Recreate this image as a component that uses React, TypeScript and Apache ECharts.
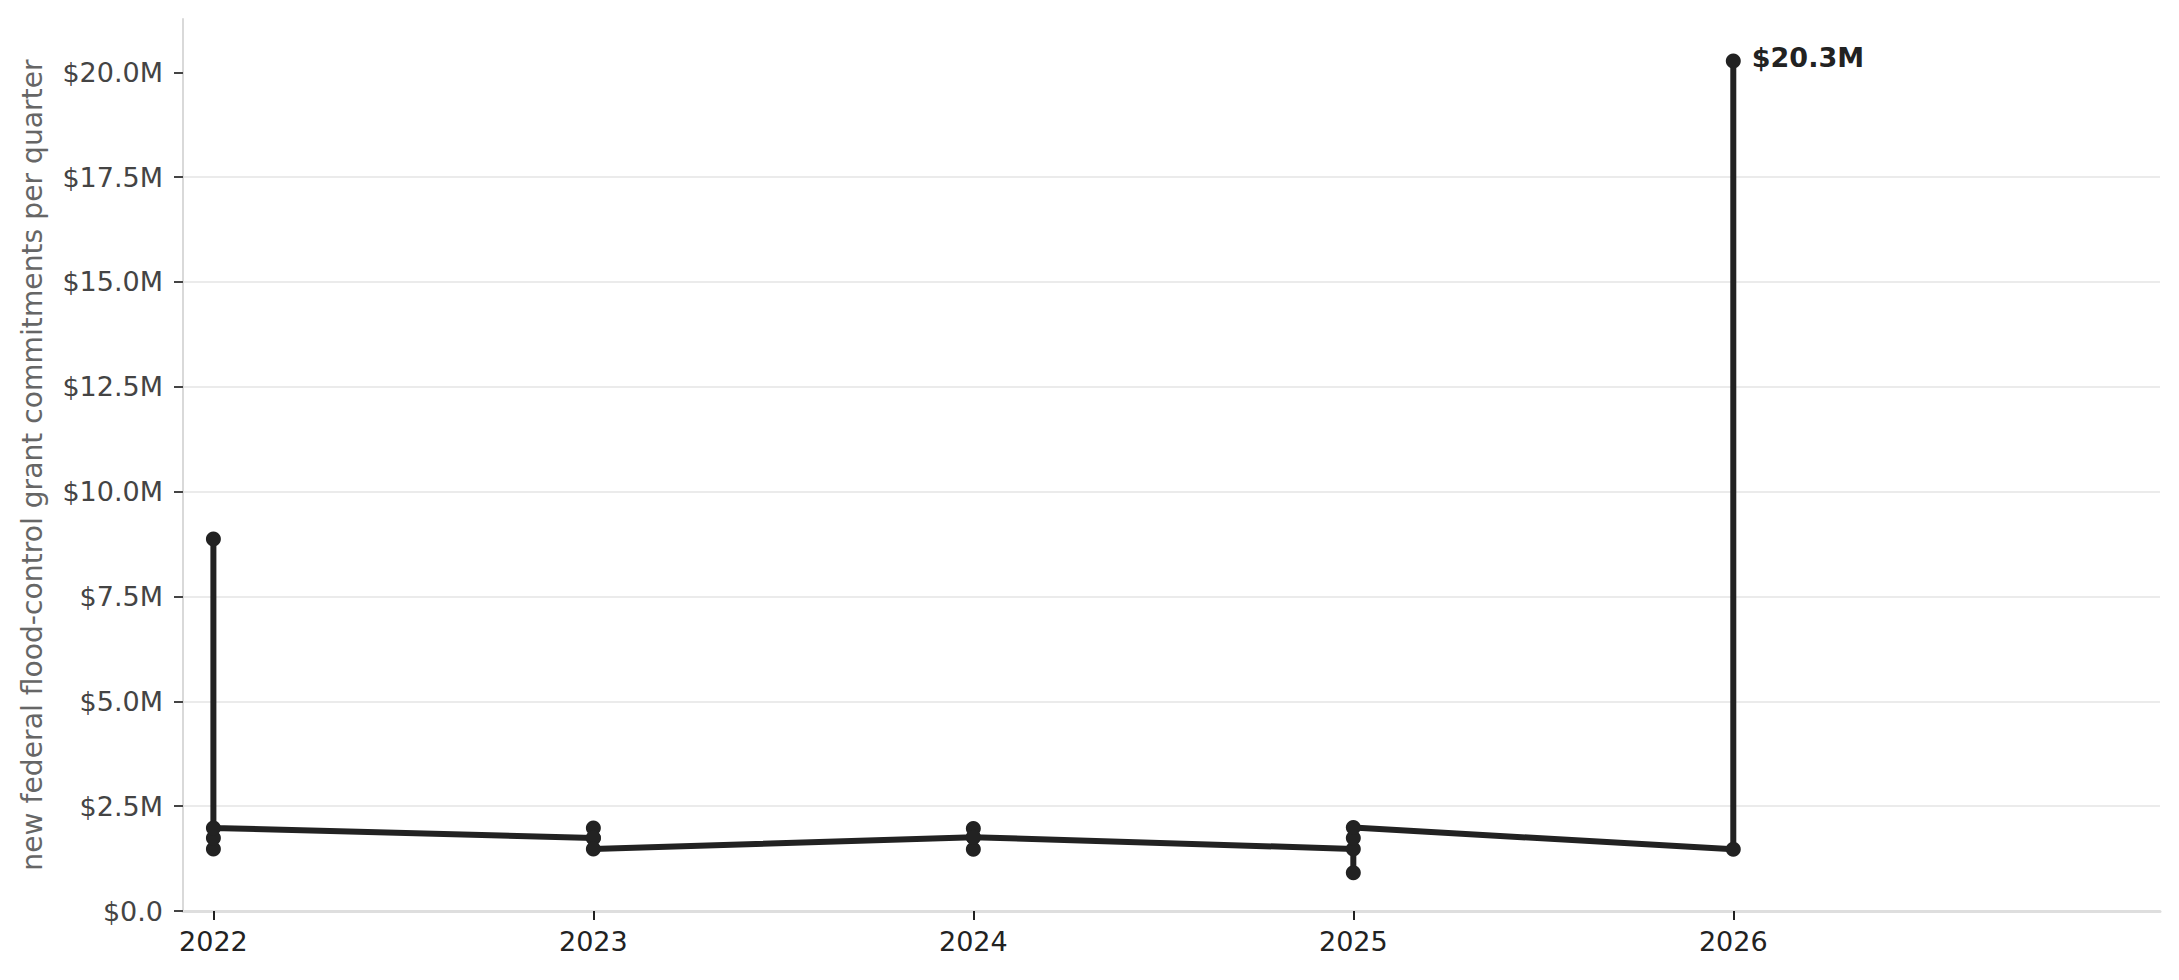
import React, { useRef, useEffect } from "react";
import * as echarts from "echarts";

// quarterly commitments, in $M; every quarter is plotted at its year
const pointYears = [
  2022, 2022, 2022, 2022,
  2023, 2023, 2023, 2023,
  2024, 2024, 2024, 2024,
  2025, 2025, 2025, 2025,
  2026, 2026,
];
const pointValues = [
  1.48, 8.87, 1.74, 1.98,
  1.74, 1.98, 1.74, 1.48,
  1.76, 1.97, 1.47, 1.76,
  1.48, 0.91, 1.74, 1.99,
  1.47, 20.27,
];
const yearTicks = [2022, 2023, 2024, 2025, 2026];
const valueTicks = [0, 2.5, 5, 7.5, 10, 12.5, 15, 17.5, 20];

const FONT = "DejaVu Sans";
const INK = "#222222";

const money = (v: number) => (v === 0 ? "$0.0" : `$${v.toFixed(1)}M`);

export default function App() {
  const chartRef = useRef<HTMLDivElement>(null);

  useEffect(() => {
    if (!chartRef.current) return;
    const chart = echarts.init(chartRef.current, undefined, { renderer: "svg" });

    const last = pointValues.length - 1;
    const data = pointValues.map((v, i) =>
      i === last
        ? {
            value: [pointYears[i], v],
            label: {
              show: true,
              position: "right",
              distance: 11,
              offset: [0, -3],
              formatter: (p: any) => money(p.value[1]),
              color: INK,
              fontFamily: FONT,
              fontWeight: "bold",
              fontSize: 27,
            },
          }
        : { value: [pointYears[i], v] }
    );

    const option: echarts.EChartsOption = {
      animation: false,
      backgroundColor: "#ffffff",
      grid: { left: 183, right: 19, top: 19, bottom: 69, containLabel: false },
      xAxis: {
        type: "value",
        min: 2021.92,
        max: 2027.123,
        axisLine: { show: true, onZero: false, lineStyle: { color: "#dedede", width: 3 } },
        axisTick: { show: true, customValues: yearTicks, length: 9, lineStyle: { color: INK, width: 2 } },
        axisLabel: {
          customValues: yearTicks,
          formatter: (v: number) => String(v),
          color: INK,
          fontFamily: FONT,
          fontSize: 27,
          margin: 17,
        },
        splitLine: { show: false },
      },
      yAxis: {
        type: "value",
        min: 0,
        max: 21.27,
        interval: 2.5,
        name: "new federal flood-control grant commitments per quarter",
        nameLocation: "middle",
        nameGap: 137,
        nameTextStyle: { color: "#666666", fontFamily: FONT, fontSize: 28.2 },
        axisLine: { show: true, lineStyle: { color: "#d9d9d9", width: 2 } },
        axisTick: { show: true, customValues: valueTicks, length: 9, lineStyle: { color: "#444444", width: 2 } },
        axisLabel: {
          customValues: valueTicks,
          formatter: money,
          color: "#444444",
          fontFamily: FONT,
          fontSize: 27,
          margin: 20,
        },
        splitLine: { show: true, showMaxLine: false, lineStyle: { color: "#ebebeb", width: 2 } },
      } as any,
      series: [
        {
          type: "line",
          data,
          symbol: "circle",
          symbolSize: 15,
          showAllSymbol: true,
          lineStyle: { color: INK, width: 6 },
          itemStyle: { color: INK },
          z: 3,
        },
      ],
    };

    chart.setOption(option);
    return () => chart.dispose();
  }, []);

  return (
    <div
      ref={chartRef}
      style={{ position: "absolute", left: 0, top: 0, width: 2179, height: 980 }}
    />
  );
}
